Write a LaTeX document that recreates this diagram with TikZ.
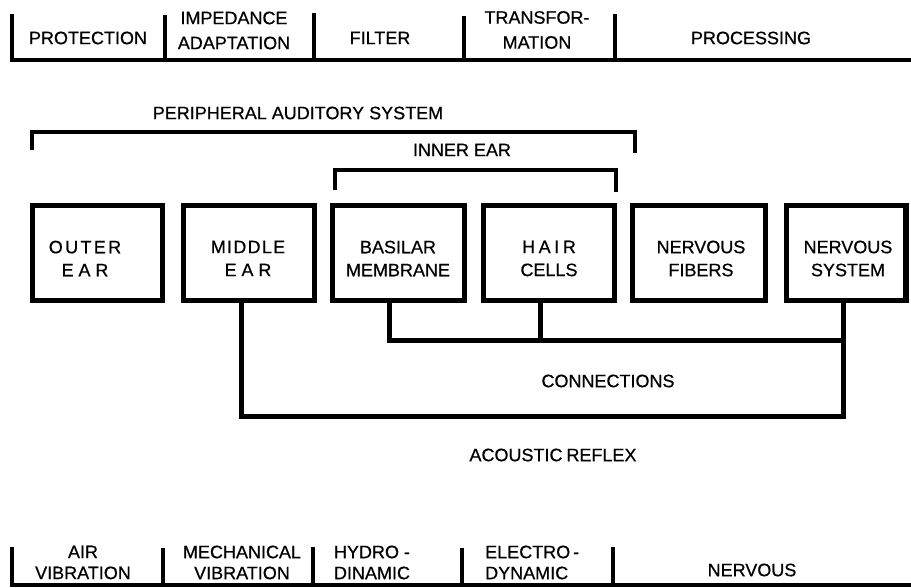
\documentclass[tikz,border=0pt]{standalone}
\usepackage{fontspec}
\setmainfont[FakeBold=0.6]{Liberation Sans}
\newcommand\lsp[2]{{\addfontfeature{LetterSpace=#1}#2}}
\begin{document}
\begin{tikzpicture}[x=1pt,y=-1pt,
  lab/.style={font=\fontsize{18}{23}\selectfont, inner sep=0pt, align=center},
  toplab/.style={lab, font=\fontsize{18}{25}\selectfont},
  botlab/.style={lab, font=\fontsize{18}{21}\selectfont},
  box/.style={draw, line width=5.5pt, inner sep=0pt, outer sep=0pt, minimum height=95pt},
  bar/.style={line width=4pt},
  conn/.style={line width=5pt},
  brk/.style={line width=3.2pt}]
\fill[white] (0,0) rectangle (911,588);
\useasboundingbox (0,0) rectangle (911,588);

% top bar
\draw[bar] (12,14) -- (12,60) -- (911,60);
\draw[bar] (165,15) -- (165,60);
\draw[bar] (314,13) -- (314,60);
\draw[bar] (464,16) -- (464,60);
\draw[bar] (615,14) -- (615,60);
\node[toplab] (tprot) at (88,38) {PROTECTION};
\node[toplab] (timp) at (234,30.5) {IMPEDANCE\\ADAPTATION};
\node[toplab] (tfil) at (380,38) {FILTER};
\node[toplab] (ttra) at (537,30) {TRANSFOR-\\MATION};
\node[toplab] (tpro) at (751,38) {PROCESSING};

% brackets
\node[lab] (pas) at (298,113) {PERIPHERAL AUDITORY SYSTEM};
\draw[brk] (32,150) -- (32,132) -- (635,132) -- (635,153);
\node[lab] (ie) at (462,150) {INNER\hspace{5pt}EAR};
\draw[brk] (335,190) -- (335,170) -- (616,170) -- (616,192);

% boxes
\node[box, minimum width=130pt] (oe) at (97.5,253) {};
\node[box, minimum width=131pt] (me) at (249,253) {};
\node[box, minimum width=132pt] (bm) at (398.5,253) {};
\node[box, minimum width=131pt] (hc) at (549,253) {};
\node[box, minimum width=133pt] (nf) at (699,253) {};
\node[box, minimum width=119.5pt] (ns) at (846.25,253) {};

\node[lab] (toe) at (85,258.5) {\lsp{13}{OUTER}\\\lsp{27}{EAR}};
\node[lab] (tme) at (248,258.5) {\lsp{7}{MIDDLE}\\\lsp{27}{EAR}};
\node[lab] (tbm) at (398,258.5) {BASILAR\\MEMBRANE};
\node[lab] (thc) at (549,258.5) {\lsp{20}{HAIR}\\CELLS};
\node[lab] (tnf) at (701,258.5) {NERVOUS\\FIBERS};
\node[lab] (tns) at (848,258.5) {NERVOUS\\SYSTEM};

% connections
\coordinate (s1) at (241,416);
\coordinate (s2) at (843,416);
\draw[conn] (me.south -| s1) -- (s1) -- (s2) -- (ns.south -| s2);
\coordinate (t1) at (389,340);
\coordinate (t2) at (540,340);
\coordinate (t3) at (843,340);
\draw[conn] (bm.south -| t1) -- (t1) -- (t3);
\draw[conn] (hc.south -| t2) -- (t2);
\node[lab] (conl) at (608,381) {CONNECTIONS};
\node[lab] (acr) at (553,455) {ACOUSTIC\hspace{4pt}REFLEX};

% bottom bar
\draw[bar] (12,547) -- (12,585) -- (911,585);
\draw[bar] (163,548) -- (163,585);
\draw[bar] (313,547) -- (313,585);
\draw[bar] (462,548) -- (462,585);
\draw[bar] (613,547) -- (613,585);
\node[botlab] (bair) at (83,562.5) {AIR\\VIBRATION};
\node[botlab] (bmec) at (242,562.5) {MECHANICAL\\VIBRATION};
\node[botlab] (bhyd) at (372,562.5) {HYDRO -\\DINAMIC};
\node[botlab, align=left, anchor=west] (bele) at (485,562.5) {ELECTRO\,-\\DYNAMIC};
\node[botlab] (bner) at (752,570) {NERVOUS};
\end{tikzpicture}
\end{document}
